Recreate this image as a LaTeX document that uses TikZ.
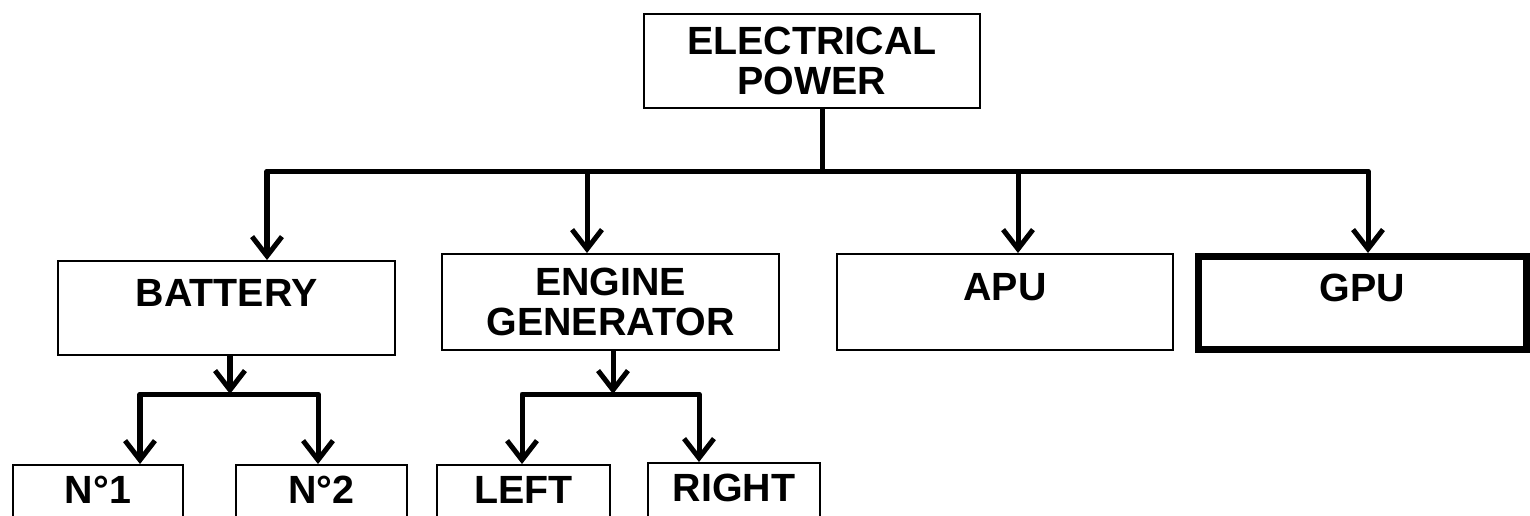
\documentclass[tikz,border=0pt]{standalone}
\usepackage{fontspec}
\usepackage{tikz}
\usetikzlibrary{arrows.meta}

\newfontfamily\boxfont{Liberation Sans}

\tikzset{
    blockbox/.style={draw,line width=1.1pt,inner sep=0pt,align=center,
        font=\boxfont\bfseries\fontsize{22.4pt}{23pt}\selectfont},
    onebox/.style={blockbox,text height=0.56cm,text depth=0.62cm},
    lowbox/.style={blockbox,text height=0.56cm,text depth=0.9cm},
    conn/.style={line width=2.85pt,line join=round,
        arrows={Straight Barb[length=11pt,width=17pt,line join=miter]-Straight Barb[length=11pt,width=17pt,line join=miter]}},
    drop/.style={line width=2.85pt,-{Straight Barb[length=11pt,width=17pt,line join=miter]}}
}

\begin{document}
\begin{tikzpicture}
        \useasboundingbox (0,0) rectangle (30.6,-10.3);

        \node[blockbox,minimum width=6.72cm,minimum height=1.88cm] (power) at (16.24,-1.22) {ELECTRICAL\\POWER};

        \node[onebox,minimum width=6.74cm,minimum height=1.88cm] (battery) at (4.53,-6.16) {BATTERY};
        \node[blockbox,minimum width=6.74cm,minimum height=1.92cm] (engine) at (12.21,-6.04) {ENGINE\\GENERATOR};
        \node[onebox,minimum width=6.72cm,minimum height=1.92cm] (apu) at (20.10,-6.04) {APU};
        \node[onebox,line width=4pt,minimum width=6.56cm,minimum height=1.86cm] (gpu) at (27.25,-6.06) {GPU};

        \node[lowbox,minimum width=3.4cm,minimum height=1.88cm] (no1) at (1.96,-10.24) {N°1};
        \node[lowbox,minimum width=3.42cm,minimum height=1.88cm] (no2) at (6.43,-10.24) {N°2};
        \node[lowbox,minimum width=3.46cm,minimum height=1.88cm] (left) at (10.47,-10.24) {LEFT};
        \node[lowbox,minimum width=3.44cm,minimum height=1.88cm] (right) at (14.68,-10.2) {RIGHT};

        \coordinate (trunk) at (16.44,-3.42);
        \coordinate (dropbat) at (5.34,-3.42);
        \coordinate (dropeng) at (11.74,-3.42);
        \coordinate (dropapu) at (20.36,-3.42);
        \coordinate (dropgpu) at (27.36,-3.42);

        \draw[line width=2.85pt] (trunk |- power.south) -- (trunk);
        \draw[conn] (battery.north -| dropbat) -- (dropbat) -- (dropgpu) -- (gpu.north -| dropgpu);
        \draw[drop] (dropeng) -- (engine.north -| dropeng);
        \draw[drop] (dropapu) -- (apu.north -| dropapu);

        \coordinate (splitbat) at (4.6,-7.88);
        \coordinate (leftbat) at (2.8,-7.88);
        \coordinate (rightbat) at (6.36,-7.88);
        \draw[drop] (battery.south -| splitbat) -- (splitbat);
        \draw[conn] (no1.north -| leftbat) -- (leftbat) -- (rightbat) -- (no2.north -| rightbat);

        \coordinate (spliteng) at (12.26,-7.88);
        \coordinate (lefteng) at (10.44,-7.88);
        \coordinate (righteng) at (13.98,-7.88);
        \draw[drop] (engine.south -| spliteng) -- (spliteng);
        \draw[conn] (left.north -| lefteng) -- (lefteng) -- (righteng) -- (right.north -| righteng);
\end{tikzpicture}
\end{document}
